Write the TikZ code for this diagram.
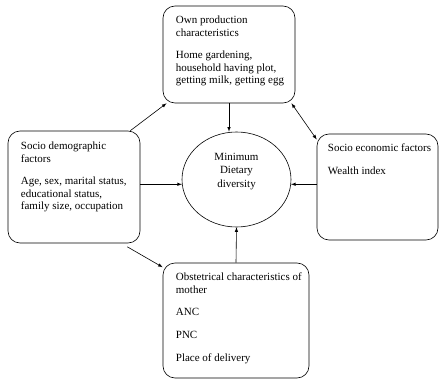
\documentclass[tikz,border=0pt]{standalone}
\usepackage{fontspec}
\setmainfont{Liberation Serif}
\usepackage{tikz}
\usetikzlibrary{arrows, shapes, positioning}
\tikzset{
    boxnode/.style = {draw, rectangle, rounded corners=12pt, line width=0.6pt, inner sep = 0em},
    textnode/.style  = {draw=none, fill=none, rectangle, inner sep = 0em, align=left,
      font=\fontsize{11}{12.6}\selectfont},
    ellipsenode/.style = {draw, ellipse, inner sep = 0em, line width=0.6pt},
    connect/.style = {black, line width=0.6pt, -latex}
}

\begin{document}
\begin{tikzpicture}[x=1pt, y=-1pt]
\useasboundingbox (0,0) rectangle (440,380);

% boxes
\node [boxnode, name = own, minimum width=132pt, minimum height=97pt] at (229,54.5) {};
\node [boxnode, name = socdem, minimum width=132pt, minimum height=112pt] at (74,187) {};
\node [boxnode, name = econ, minimum width=121pt, minimum height=106pt] at (377.5,187) {};
\node [boxnode, name = obst, minimum width=146pt, minimum height=115pt] at (236,320.5) {};
\node [ellipsenode, name = mdd, minimum width=109pt, minimum height=95pt] at (236.5,179.5) {};

% texts
\node [textnode, name = owntext, below right = 10pt and 13pt of own.north west]
    {Own production\\ characteristics\\[10pt] Home gardening,\\ household having plot,\\ getting milk, getting egg};
\node [textnode, name = socdemtext, below right = 11pt and 13pt of socdem.north west]
    {Socio demographic\\ factors\\[10pt] Age, sex, marital status,\\ educational status,\\ family size, occupation};
\node [textnode, name = econtext, below right = 10pt and 11pt of econ.north west]
    {Socio economic factors\\[10pt] Wealth index};
\node [textnode, name = obsttext, below right = 10pt and 13pt of obst.north west]
    {Obstetrical characteristics of\\ mother\\[10pt] ANC\\[10pt] PNC\\[10pt] Place of delivery};
\node [textnode, name = mddtext, align=center, font=\fontsize{11}{13.5}\selectfont] at ([yshift=8pt]mdd.center)
    {Minimum\\ Dietary\\ diversity};

% arrows
\draw [connect] (own.south) -- (own.south |- mdd.north);
\draw [connect] (socdem.45) -- (own.218);
\draw [connect, latex-latex] (own.322) -- (econ.142);
\draw [connect] (socdem.east |- mdd.185) -- (mdd.185);
\draw [connect] (econ.west |- mdd.355) -- (mdd.355);
\draw [connect, shorten <=7pt] (socdem.310) -- (obst.144);
\draw [connect] (obst.north) -- (mdd.south);

\end{tikzpicture}
\end{document}
